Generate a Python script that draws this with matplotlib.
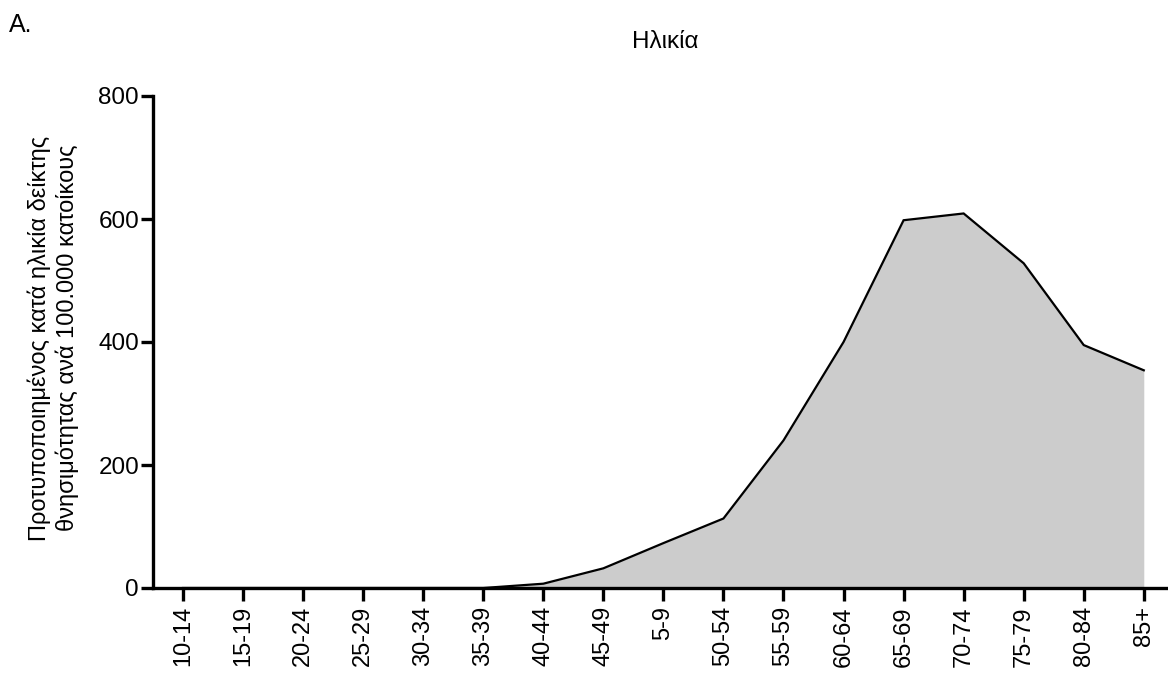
import matplotlib
matplotlib.use("Agg")
import matplotlib.pyplot as plt

plt.rcParams['font.family'] = ['Liberation Sans', 'DejaVu Sans']

age_groups = ["10-14", "15-19", "20-24", "25-29", "30-34", "35-39", "40-44",
              "45-49", "5-9", "50-54", "55-59", "60-64", "65-69", "70-74",
              "75-79", "80-84", "85+"]
mortality_rate = [0, 0, 0, 0, 0, 0, 7, 32, 73, 113, 240, 400, 598, 609, 528, 395, 354]
y_ticks = [0, 200, 400, 600, 800]

W, H = 1168, 675
fig = plt.figure(figsize=(W / 100, H / 100), dpi=100)
ax = fig.add_axes([153 / W, 87 / H, (1166 - 153) / W, (588 - 96) / H])

x = list(range(len(age_groups)))
ax.fill_between(x, 0, mortality_rate, color="#cccccc", linewidth=0)
ax.plot(x, mortality_rate, color="black", linewidth=1.6, solid_joinstyle="miter")

ax.set_xlim(-0.5, 16.37)
ax.set_ylim(0, 800)
ax.set_xticks(x)
ax.set_xticklabels(age_groups, rotation=90, fontsize=17)
ax.set_yticks(y_ticks)
ax.set_yticklabels([str(v) for v in y_ticks], fontsize=17.5)

for side in ("top", "right"):
    ax.spines[side].set_visible(False)
for side in ("left", "bottom"):
    ax.spines[side].set_linewidth(2.4)
ax.tick_params(axis="both", length=9, width=2.4, color="black")
ax.tick_params(axis="x", pad=4)
ax.tick_params(axis="y", pad=1)

fig.text(53 / W, 1 - 338 / H,
         "Προτυποποιημένος κατά ηλικία δείκτης\nθνησιμότητας ανά 100.000 κατοίκους",
         rotation=90, ha="center", va="center", fontsize=17, linespacing=1.25,
         multialignment="center")

fig.text(665 / W, 1 - 42 / H, "Ηλικία", ha="center", va="center", fontsize=17.5)
fig.text(9 / W, 1 - 25 / H, "A.", ha="left", va="center", fontsize=18)

fig.savefig("out.png", dpi=100)
